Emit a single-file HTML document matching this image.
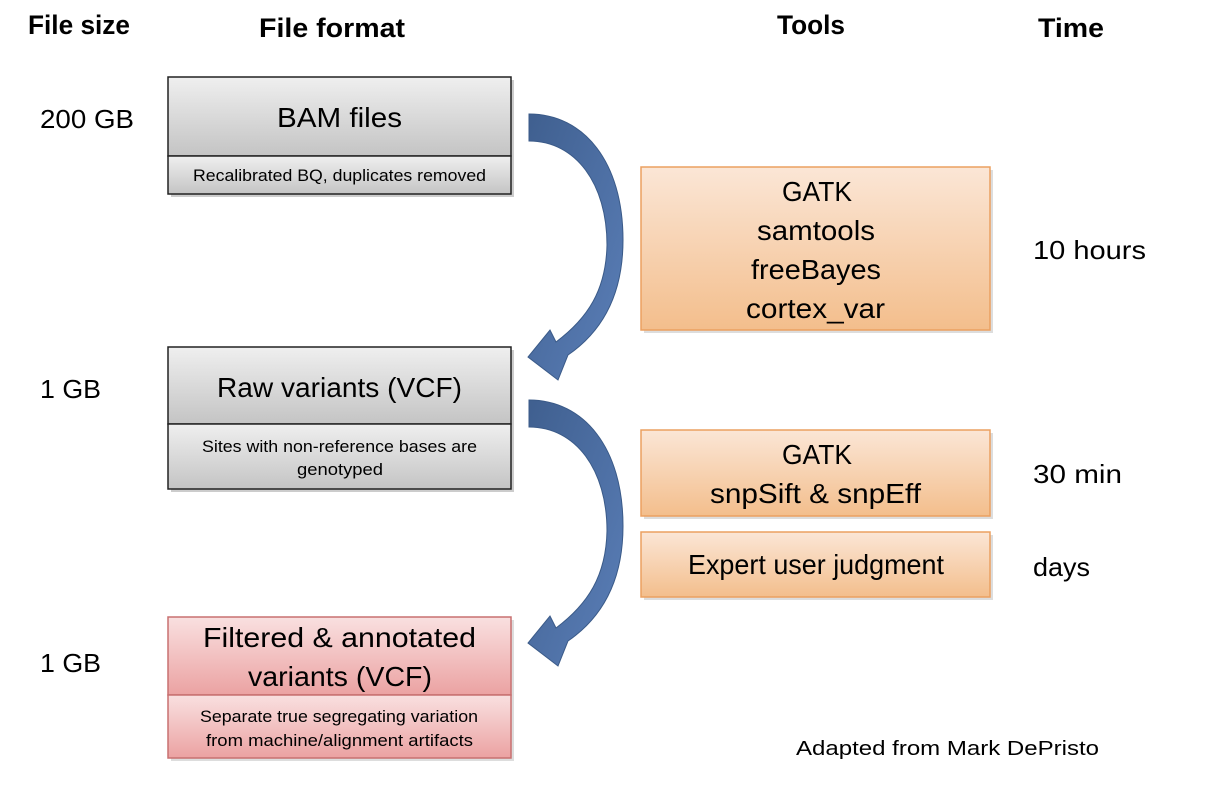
<!DOCTYPE html>
<html><head><meta charset="utf-8"><style>
html,body{margin:0;padding:0;background:#fff;}
body{width:1222px;height:790px;overflow:hidden;}
text{font-family:"Liberation Sans",sans-serif;}
</style></head><body>
<svg width="1222" height="790" viewBox="0 0 1222 790" xmlns="http://www.w3.org/2000/svg">
<defs>
<linearGradient id="g" x1="0" y1="0" x2="0" y2="1"><stop offset="0" stop-color="#efefef"/><stop offset="1" stop-color="#c4c4c4"/></linearGradient>
<linearGradient id="o" x1="0" y1="0" x2="0" y2="1"><stop offset="0" stop-color="#fbe6d6"/><stop offset="1" stop-color="#f3be8c"/></linearGradient>
<linearGradient id="r" x1="0" y1="0" x2="0" y2="1"><stop offset="0" stop-color="#f9e0e0"/><stop offset="1" stop-color="#eba2a2"/></linearGradient>
<linearGradient id="b" x1="0" y1="0" x2="1" y2="1"><stop offset="0" stop-color="#3f5f8f"/><stop offset="1" stop-color="#5b7fb8"/></linearGradient>
</defs>
<g font-weight="bold" font-size="27" fill="#000" lengthAdjust="spacingAndGlyphs">
<text x="28" y="34" textLength="102" lengthAdjust="spacingAndGlyphs">File size</text>
<text x="259" y="37" textLength="146" lengthAdjust="spacingAndGlyphs">File format</text>
<text x="777" y="34" textLength="68" lengthAdjust="spacingAndGlyphs">Tools</text>
<text x="1038" y="37" textLength="66" lengthAdjust="spacingAndGlyphs">Time</text>
</g>
<g font-size="26" fill="#000">
<text x="40" y="128" textLength="94" lengthAdjust="spacingAndGlyphs">200 GB</text>
<text x="40" y="398" textLength="61" lengthAdjust="spacingAndGlyphs">1 GB</text>
<text x="40" y="672" textLength="61" lengthAdjust="spacingAndGlyphs">1 GB</text>
<text x="1033" y="259" textLength="113" lengthAdjust="spacingAndGlyphs">10 hours</text>
<text x="1033" y="483" textLength="89" lengthAdjust="spacingAndGlyphs">30 min</text>
<text x="1033" y="576" textLength="57" lengthAdjust="spacingAndGlyphs">days</text>
<text x="796" y="755" font-size="20" textLength="303" lengthAdjust="spacingAndGlyphs">Adapted from Mark DePristo</text>
</g>
<!-- gray boxes -->
<g stroke="#222" stroke-width="1.5">
<rect x="171" y="80" width="343" height="117" fill="#ccc" stroke="none"/>
<rect x="168" y="77" width="343" height="79" fill="url(#g)"/>
<rect x="168" y="156" width="343" height="38" fill="url(#g)"/>
<rect x="171" y="350" width="343" height="142" fill="#ccc" stroke="none"/>
<rect x="168" y="347" width="343" height="77" fill="url(#g)"/>
<rect x="168" y="424" width="343" height="65" fill="url(#g)"/>
</g>
<g stroke="#c87070" stroke-width="1.5">
<rect x="171" y="620" width="343" height="141" fill="#ddd" stroke="none"/>
<rect x="168" y="617" width="343" height="78" fill="url(#r)"/>
<rect x="168" y="695" width="343" height="63" fill="url(#r)"/>
</g>
<g fill="#000">
<text x="277" y="127" font-size="28" textLength="125" lengthAdjust="spacingAndGlyphs">BAM files</text>
<text x="193" y="181" font-size="17" textLength="293" lengthAdjust="spacingAndGlyphs">Recalibrated BQ, duplicates removed</text>
<text x="217" y="397" font-size="28" textLength="245" lengthAdjust="spacingAndGlyphs">Raw variants (VCF)</text>
<text x="202" y="452" font-size="17" textLength="275" lengthAdjust="spacingAndGlyphs">Sites with non-reference bases are</text>
<text x="297" y="475" font-size="17" textLength="86" lengthAdjust="spacingAndGlyphs">genotyped</text>
<text x="203" y="647" font-size="28" textLength="273" lengthAdjust="spacingAndGlyphs">Filtered &amp; annotated</text>
<text x="248" y="686" font-size="28" textLength="184" lengthAdjust="spacingAndGlyphs">variants (VCF)</text>
<text x="200" y="722" font-size="17" textLength="278" lengthAdjust="spacingAndGlyphs">Separate true segregating variation</text>
<text x="206" y="746" font-size="17" textLength="267" lengthAdjust="spacingAndGlyphs">from machine/alignment artifacts</text>
</g>
<!-- orange boxes -->
<g stroke="#eba060" stroke-width="1.5">
<rect x="644" y="170" width="349" height="163" fill="#ddd" stroke="none"/>
<rect x="641" y="167" width="349" height="163" fill="url(#o)"/>
<rect x="644" y="433" width="349" height="86" fill="#ddd" stroke="none"/>
<rect x="641" y="430" width="349" height="86" fill="url(#o)"/>
<rect x="644" y="535" width="349" height="65" fill="#ddd" stroke="none"/>
<rect x="641" y="532" width="349" height="65" fill="url(#o)"/>
</g>
<g font-size="28" fill="#000">
<text x="782" y="201" textLength="70" lengthAdjust="spacingAndGlyphs">GATK</text>
<text x="757" y="240" textLength="118" lengthAdjust="spacingAndGlyphs">samtools</text>
<text x="751" y="279" textLength="130" lengthAdjust="spacingAndGlyphs">freeBayes</text>
<text x="746" y="318" textLength="139" lengthAdjust="spacingAndGlyphs">cortex_var</text>
<text x="782" y="464" textLength="70" lengthAdjust="spacingAndGlyphs">GATK</text>
<text x="710" y="503" textLength="211" lengthAdjust="spacingAndGlyphs">snpSift &amp; snpEff</text>
<text x="688" y="574" textLength="256" lengthAdjust="spacingAndGlyphs">Expert user judgment</text>
</g>
<!-- arrows -->
<g fill="url(#b)" stroke="#3a5a88" stroke-width="1">
<path id="arr" d="M529,114 C584,114 623,162 623,240 C623,298 600,333 568,355 L558,380 L528,357 L550,330 L556,342 C588,318 606,290 607,245 C607,184 576,141 529,141 Z"/>
<use href="#arr" transform="translate(0,286)"/>
</g>
</svg>
</body></html>
